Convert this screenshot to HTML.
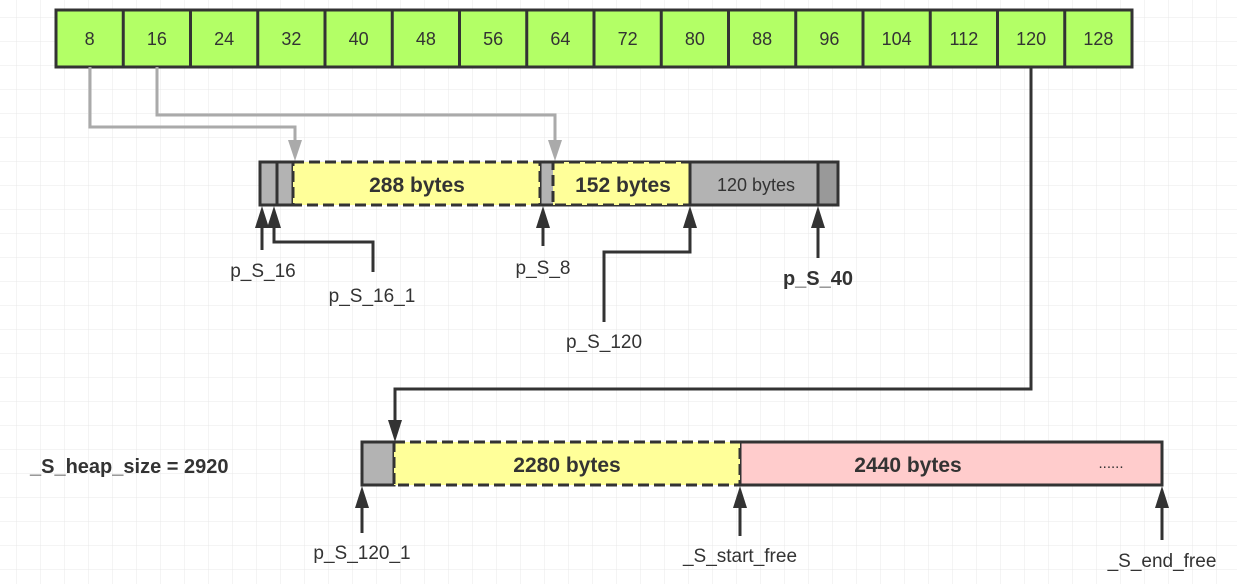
<!DOCTYPE html>
<html><head><meta charset="utf-8"><style>
html,body{margin:0;padding:0;background:#fff}
svg{display:block}
text{font-family:"Liberation Sans","DejaVu Sans",sans-serif;fill:#333}
</style></head><body>
<svg width="1237" height="584" viewBox="0 0 1237 584" xmlns="http://www.w3.org/2000/svg">
<defs>
<pattern id="g" x="16" y="17" width="24" height="24" patternUnits="userSpaceOnUse">
<path d="M0 0H24M0 0V24" stroke="#e8e8e8" stroke-width="1" fill="none"/>
</pattern>
</defs>
<rect width="1237" height="584" fill="url(#g)"/>

<rect x="56" y="10" width="1076" height="57" fill="#b3ff66" stroke="#333" stroke-width="3"/>
<g stroke="#333" stroke-width="3">
<path d="M123.25 10V67M190.5 10V67M257.75 10V67M325 10V67M392.25 10V67M459.5 10V67M526.75 10V67M594 10V67M661.25 10V67M728.5 10V67M795.75 10V67M863 10V67M930.25 10V67M997.5 10V67M1064.75 10V67"/>
</g>
<g font-size="18" text-anchor="middle">
<text x="89.6" y="45">8</text><text x="156.9" y="45">16</text><text x="224.1" y="45">24</text><text x="291.4" y="45">32</text>
<text x="358.6" y="45">40</text><text x="425.9" y="45">48</text><text x="493.1" y="45">56</text><text x="560.4" y="45">64</text>
<text x="627.6" y="45">72</text><text x="694.9" y="45">80</text><text x="762.1" y="45">88</text><text x="829.4" y="45">96</text>
<text x="896.6" y="45">104</text><text x="963.9" y="45">112</text><text x="1031.1" y="45">120</text><text x="1098.4" y="45">128</text>
</g>

<g stroke="#aaa" stroke-width="3" fill="none">
<path d="M90 67V127H295V142"/>
<path d="M157 67V115H555V142"/>
</g>
<path d="M288 140L295 161L302 140Z" fill="#aaa"/>
<path d="M548 140L555 161L562 140Z" fill="#aaa"/>

<rect x="260" y="162" width="33" height="43" fill="#b3b3b3" stroke="#333" stroke-width="3"/>
<path d="M277 162V205" stroke="#333" stroke-width="3"/>
<rect x="540" y="162" width="150" height="43" fill="#b3b3b3" stroke="#333" stroke-width="3"/>
<rect x="293" y="162" width="247" height="43" fill="#ffff99" stroke="#333" stroke-width="3" stroke-dasharray="11 5"/>
<rect x="553" y="162" width="137" height="43" fill="#ffff99" stroke="#333" stroke-width="3" stroke-dasharray="11 5"/>
<rect x="690" y="162" width="148" height="43" fill="#b3b3b3" stroke="#333" stroke-width="3"/>
<rect x="818" y="162" width="20" height="43" fill="#999" stroke="#333" stroke-width="3"/>
<text x="417" y="192" font-size="21" font-weight="bold" text-anchor="middle">288 bytes</text>
<text x="623" y="192" font-size="21" font-weight="bold" text-anchor="middle">152 bytes</text>
<text x="756" y="191" font-size="18" text-anchor="middle">120 bytes</text>

<g stroke="#333" stroke-width="3" fill="none">
<path d="M262 250V225"/>
<path d="M373 272V242H274V225"/>
<path d="M543 246V225"/>
<path d="M604 322V252H690V225"/>
<path d="M818 258V225"/>
</g>
<g fill="#333">
<path d="M255 228L262 206L269 228Z"/>
<path d="M267 228L274 206L281 228Z"/>
<path d="M536 228L543 206L550 228Z"/>
<path d="M683 228L690 206L697 228Z"/>
<path d="M811 228L818 206L825 228Z"/>
</g>
<g font-size="19" text-anchor="middle">
<text x="263" y="277">p_S_16</text>
<text x="372" y="302">p_S_16_1</text>
<text x="543" y="274">p_S_8</text>
<text x="604" y="348">p_S_120</text>
<text x="818" y="285" font-weight="bold" font-size="20">p_S_40</text>
</g>

<path d="M1031 67V389H395V422" stroke="#333" stroke-width="3" fill="none"/>
<path d="M388 420L395 442L402 420Z" fill="#333"/>

<rect x="362" y="442" width="32" height="43" fill="#b3b3b3" stroke="#333" stroke-width="3"/>
<rect x="740" y="442" width="422" height="43" fill="#ffcccc" stroke="#333" stroke-width="3"/>
<rect x="394" y="442" width="346" height="43" fill="#ffff99" stroke="#333" stroke-width="3" stroke-dasharray="11 5"/>
<text x="567" y="472" font-size="21" font-weight="bold" text-anchor="middle">2280 bytes</text>
<text x="908" y="472" font-size="21" font-weight="bold" text-anchor="middle">2440 bytes</text>
<text x="1111" y="468" font-size="15" text-anchor="middle">......</text>
<text x="30" y="473" font-size="20" font-weight="bold">_S_heap_size = 2920</text>

<g stroke="#333" stroke-width="3" fill="none">
<path d="M362 533V505"/>
<path d="M740 536V505"/>
<path d="M1162 540V505"/>
</g>
<g fill="#333">
<path d="M355 508L362 486L369 508Z"/>
<path d="M733 508L740 486L747 508Z"/>
<path d="M1155 508L1162 486L1169 508Z"/>
</g>
<g font-size="19" text-anchor="middle">
<text x="362" y="559">p_S_120_1</text>
<text x="740" y="562">_S_start_free</text>
<text x="1162" y="567">_S_end_free</text>
</g>
</svg>
</body></html>
